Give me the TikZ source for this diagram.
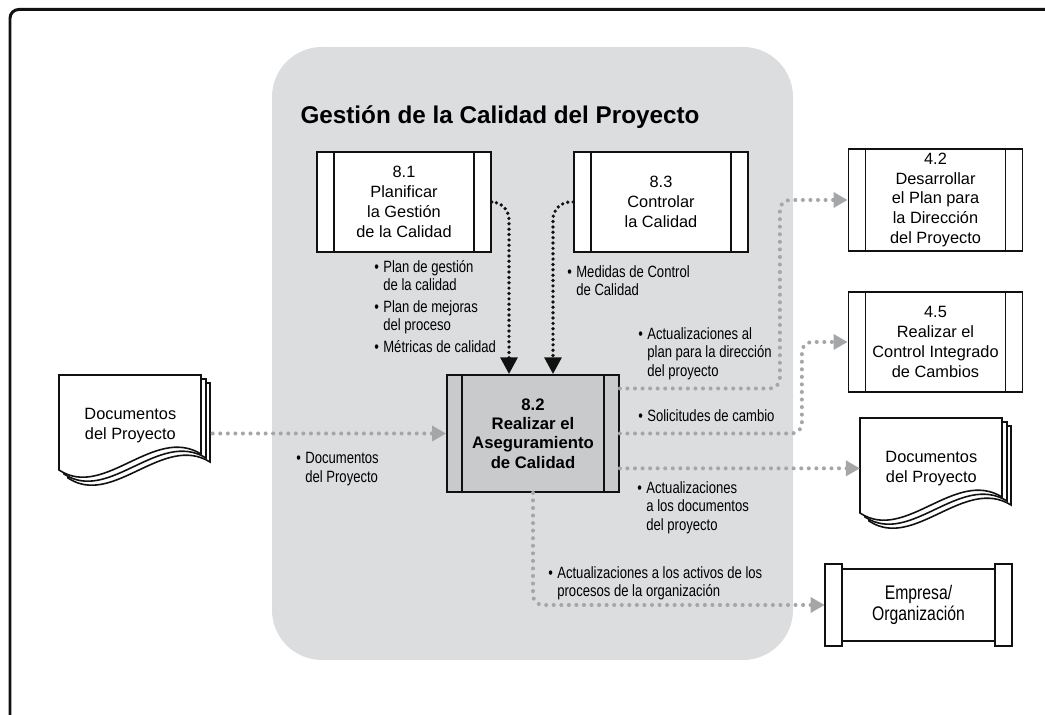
\documentclass[tikz,border=0pt]{standalone}
\usepackage{fontspec}
\setmainfont{Liberation Sans}
\newfontfamily\condfont[FakeStretch=0.8]{Liberation Sans}
\usepackage{xcolor}
\usepackage{tikz}
\usetikzlibrary{arrows.meta,backgrounds,calc}
\definecolor{qualzone}{HTML}{DCDDDE}
\definecolor{qualcore}{HTML}{C9CACC}
\definecolor{qualflow}{HTML}{A4A6A8}
\definecolor{qualink}{HTML}{111111}

\newcommand\boxfont{\fontsize{9.3}{11.3}\selectfont}
\newcommand\labfont{\condfont\fontsize{9.3}{10.6}\selectfont}
\newcommand\bul{\makebox[0.18cm][l]{\textbullet}}
\newcommand\lind{\hspace*{0.18cm}}
\newcommand\docpages[1]{%
  \begin{scope}[on background layer, shift={(#1.north west)}]
    \foreach \dx/\dy in {0.18/-0.16, 0.1/-0.08, 0/0}
      \filldraw[fill=white, draw=qualink, line width=0.9pt, shift={(\dx,\dy)}]
        (0,0) -- (2.84,0) -- (2.84,-1.58) .. controls (1.9,-1.0) and (0.9,-2.5) .. (0,-1.9) -- cycle;
  \end{scope}}

\begin{document}
\begin{tikzpicture}[x=1cm,y=1cm,
    sidebars/.style={path picture={
      \draw[qualink, line width=1pt]
        ([xshift=#1]path picture bounding box.north west) -- ([xshift=#1]path picture bounding box.south west)
        ([xshift=-#1]path picture bounding box.north east) -- ([xshift=-#1]path picture bounding box.south east);}},
    proc/.style={draw=qualink, line width=1pt, fill=white, minimum width=3.48cm, minimum height=2cm,
      inner sep=0pt, align=center, font=\boxfont, sidebars=0.34cm},
    mainproc/.style={proc, fill=qualcore, minimum width=3.44cm, minimum height=2.34cm,
      font=\bfseries\fontsize{9.5}{11}\selectfont, sidebars=0.3cm},
    docnode/.style={anchor=north west, minimum width=2.84cm, minimum height=2cm, inner sep=0pt,
      align=center, font=\boxfont},
    lab/.style={anchor=north west, align=left, inner sep=0pt, font=\labfont},
    ctrl/.style={qualink, line width=2.1pt, line cap=round, dash pattern=on 0pt off 3.05pt,
      rounded corners=0.35cm, -{Triangle[width=9.5pt,length=9.5pt]}},
    flow/.style={qualflow, line width=2.3pt, line cap=round, dash pattern=on 0pt off 4.3pt,
      rounded corners=0.2cm, -{Triangle[width=8.5pt,length=8pt]}}]
  \useasboundingbox (0,0) rectangle (20.9,14.3);
  \clip (0,0) rectangle (20.9,14.3);
  \draw[qualink, line width=1.7pt, rounded corners=5pt] (0.2,-0.3) rectangle (21.5,14.11);

  % quality management zone
  \fill[qualzone, rounded corners=1cm] (5.44,1.1) rectangle (15.86,13.36);
  \node[font=\bfseries\fontsize{13.8}{16}\selectfont] (title) at (10.0,11.96)
    {Gestión de la Calidad del Proyecto};

  \node[proc] (b81) at (8.08,10.26) {8.1\\Planificar\\la Gestión\\de la Calidad};
  \node[proc] (b83) at (13.22,10.26) {8.3\\Controlar\\la Calidad};
  \node[mainproc] (b82) at (10.66,5.63) {8.2\\Realizar el\\Aseguramiento\\de Calidad};

  % outside processes
  \node[proc, minimum height=2.04cm] (b42) at (18.71,10.3)
    {4.2\\Desarrollar\\el Plan para\\la Dirección\\del Proyecto};
  \node[proc] (b45) at (18.71,7.46) {4.5\\Realizar el\\Control Integrado\\de Cambios};

  \node[docnode] (docin) at (1.18,6.8) {Documentos\\del Proyecto};
  \docpages{docin}
  \node[docnode] (docout) at (17.2,5.94) {Documentos\\del Proyecto};
  \docpages{docout}

  \node[minimum width=3.74cm, minimum height=1.44cm, inner sep=0pt, align=center,
    font=\condfont\fontsize{11.2}{11.5}\selectfont] (org) at (18.37,2.2) {Empresa/\\Organización};
  \draw[qualink, line width=1pt] ([xshift=0.34cm]org.north west) rectangle ([xshift=-0.34cm]org.south east);
  \draw[qualink, line width=1pt, fill=white] ([yshift=0.1cm]org.north west)
    rectangle ([xshift=0.34cm,yshift=-0.1cm]org.south west);
  \draw[qualink, line width=1pt, fill=white] ([xshift=-0.34cm,yshift=0.1cm]org.north east)
    rectangle ([yshift=-0.1cm]org.south east);

  % connectors
  \draw[ctrl] (b81.east) -| ([xshift=-0.48cm]b82.north);
  \draw[ctrl] (b83.west) -| ([xshift=0.4cm]b82.north);
  \draw[flow, shorten <=0.22cm] (docin.east |- b82.west) -- (b82.west);
  \draw[flow] ([yshift=0.9cm]b82.east) -- ++(3.2,0) |- (b42.west);
  \draw[flow] (b82.east) -- ++(3.64,0) |- (b45.west);
  \draw[flow] (b82.east |- docout.west) -- (docout.west);
  \draw[flow] (b82.south) |- (org.west);

  % labels
  \node[lab] (l81a) at (7.48,9.1) {\bul Plan de gestión\\\lind de la calidad};
  \node[lab] (l81b) at (7.48,8.3) {\bul Plan de mejoras\\\lind del proceso};
  \node[lab] (l81c) at (7.48,7.5) {\bul Métricas de calidad};
  \node[lab] (l83) at (11.34,9.0) {\bul Medidas de Control\\\lind de Calidad};
  \node[lab] (l42) at (12.76,7.76) {\bul Actualizaciones al\\\lind plan para la dirección\\\lind del proyecto};
  \node[lab] (l45) at (12.76,6.12) {\bul Solicitudes de cambio};
  \node[lab] (ldoc) at (12.74,4.68) {\bul Actualizaciones\\\lind a los documentos\\\lind del proyecto};
  \node[lab] (lorg) at (10.96,2.98) {\bul Actualizaciones a los activos de los\\\lind procesos de la organización};
  \node[lab] (lin) at (5.92,5.26) {\bul Documentos\\\lind del Proyecto};
\end{tikzpicture}
\end{document}
